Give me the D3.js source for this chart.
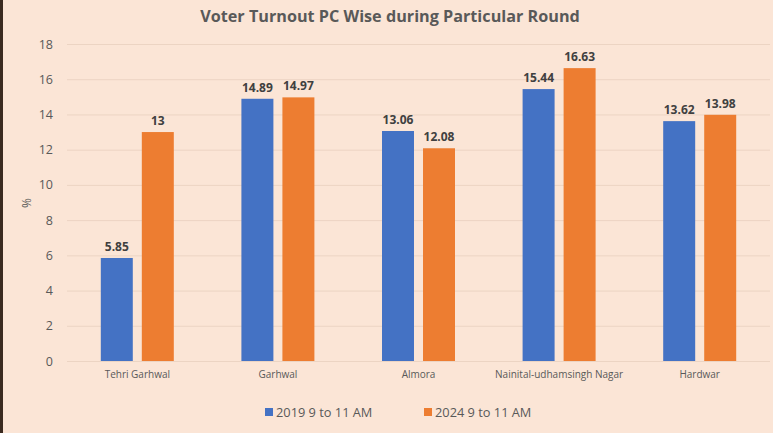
<!DOCTYPE html>
<html><head><meta charset="utf-8">
<script src="https://cdn.jsdelivr.net/npm/d3@7"></script>
<style>html,body{margin:0;padding:0;background:#FBE5D6;}</style>
</head><body>
<svg id="c" width="773" height="433"></svg>
<script>
const categories = ["Tehri Garhwal","Garhwal","Almora","Nainital-udhamsingh Nagar","Hardwar"];
const seriesNames = ["2019 9 to 11 AM","2024 9 to 11 AM"];
const values2019 = [5.85,14.89,13.06,15.44,13.62];
const values2024 = [13,14.97,12.08,16.63,13.98];
const labels2019 = ["5.85","14.89","13.06","15.44","13.62"];
const labels2024 = ["13","14.97","12.08","16.63","13.98"];
const yTicks = [0,2,4,6,8,10,12,14,16,18];
const colors = ["#4472C4","#ED7D31"];

const svg = d3.select("#c");
svg.append("rect").attr("width",773).attr("height",433).attr("fill","#FBE5D6");
svg.append("rect").attr("x",0).attr("y",0).attr("width",3).attr("height",433).attr("fill","#3a2a20");

const x = d3.scaleBand().domain(categories).range([67,770]).paddingInner(0).paddingOuter(0);
const y = d3.scaleLinear().domain([0,18]).range([361,44]);
const xs = d3.scaleBand().domain([0,1]).range([0,73]).paddingInner(0.22);

svg.append("text").attr("x",390).attr("y",22).attr("text-anchor","middle")
  .attr("font-family","Open Sans").attr("font-weight","bold").attr("font-size","16.2px")
  .attr("fill","#595959").text("Voter Turnout PC Wise during Particular Round");

const yAxis = d3.axisLeft(y).tickValues(yTicks).tickSize(-(770-67)).tickPadding(14);
const ga = svg.append("g").attr("transform","translate(67,0)").call(yAxis);
ga.select(".domain").remove();
ga.selectAll(".tick line").attr("stroke","#ecd4c3").attr("stroke-width",1);
ga.selectAll(".tick text").attr("font-family","Open Sans").attr("font-size","12.5px").attr("fill","#595959");

svg.append("text").attr("transform","translate(31,203) rotate(-90)").attr("text-anchor","middle")
  .attr("font-family","Open Sans").attr("font-size","12px").attr("fill","#595959").text("%");

const xAxis = d3.axisBottom(x).tickSize(0).tickPadding(10);
const gx = svg.append("g").attr("transform","translate(0,361)").call(xAxis);
gx.select(".domain").remove();
gx.selectAll(".tick text").attr("font-family","Open Sans").attr("font-size","10px").attr("fill","#595959");

const series = [values2019, values2024];
const labs = [labels2019, labels2024];
const groupOffset = (x.bandwidth()-73)/2;
series.forEach((vals,si)=>{
  const g = svg.append("g");
  g.selectAll("rect").data(categories).join("rect")
    .attr("x",(c)=>x(c)+groupOffset+xs(si)).attr("width",xs.bandwidth())
    .attr("y",(c,i)=>y(vals[i])).attr("height",(c,i)=>y(0)-y(vals[i]))
    .attr("fill",colors[si]);
  g.selectAll("text").data(categories).join("text")
    .attr("x",(c)=>x(c)+groupOffset+xs(si)+xs.bandwidth()/2)
    .attr("y",(c,i)=>y(vals[i])-7).attr("text-anchor","middle")
    .attr("font-family","Open Sans").attr("font-weight","bold").attr("font-size","12px")
    .attr("fill","#404040").text((c,i)=>labs[si][i]);
});

const legX = [265,424];
seriesNames.forEach((n,i)=>{
  svg.append("rect").attr("x",legX[i]).attr("y",408).attr("width",8).attr("height",8).attr("fill",colors[i]);
  svg.append("text").attr("x",legX[i]+11).attr("y",417).attr("font-family","Open Sans")
    .attr("font-size","12.8px").attr("fill","#595959").text(n);
});
</script>
</body></html>
